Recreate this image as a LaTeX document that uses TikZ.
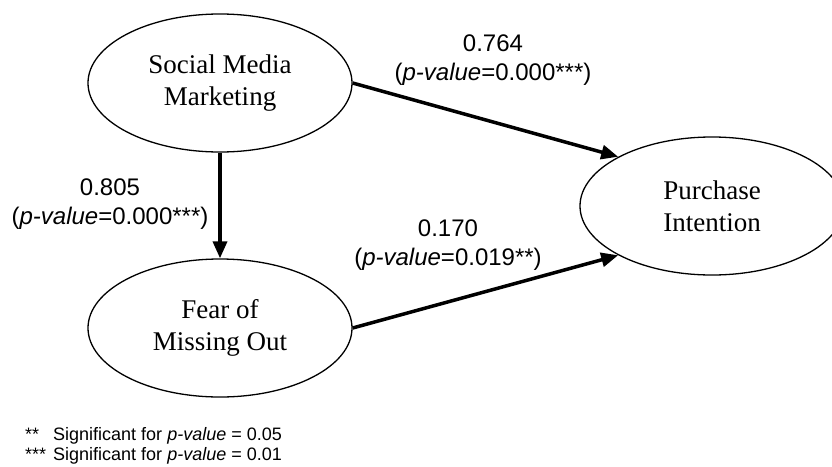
\documentclass[tikz,border=0pt]{standalone}
\usepackage{fontspec}
\setmainfont{Liberation Serif}
\newfontfamily\coeffont{Liberation Sans}
\usetikzlibrary{shapes.geometric,arrows.meta}
\tikzset{
	construct/.style={ellipse,draw,line width=1.3pt,minimum width=264pt,minimum height=138pt,inner sep=0pt,align=center,font=\fontsize{27}{32}\selectfont},
	effect/.style={line width=3.5pt,-{Triangle[length=17pt,width=14pt]}},
	coef/.style={align=center,font=\coeffont\fontsize{24}{29}\selectfont},
	note/.style={anchor=base west,inner sep=0pt,font=\coeffont\fontsize{18}{21}\selectfont}
}
\begin{document}
\begin{tikzpicture}[x=1pt,y=-1pt]
				\clip (0,0) rectangle (832,466);
				\path (220,83)node[construct](smm){Social Media\\Marketing}
				(220,328)node[construct](fomo){Fear of\\Missing Out}
				(712,206)node[construct](pi){Purchase\\Intention};
				\draw[effect] (smm.east)--(pi.north west);
				\draw[effect] (smm.south)--(fomo.north);
				\draw[effect] (fomo.east)--(pi.south west);
				\path (493,60)node[coef](c1){0.764\\(\textit{p-value}=0.000***)}
				(110,204)node[coef](c2){0.805\\(\textit{p-value}=0.000***)}
				(448,245)node[coef](c3){0.170\\(\textit{p-value}=0.019**)};
				\path (25,440)node[note](n1){\makebox[28pt][l]{**}Significant for \textit{p-value} = 0.05}
				(25,460)node[note](n2){\makebox[28pt][l]{***}Significant for \textit{p-value} = 0.01};
			\end{tikzpicture}
\end{document}
